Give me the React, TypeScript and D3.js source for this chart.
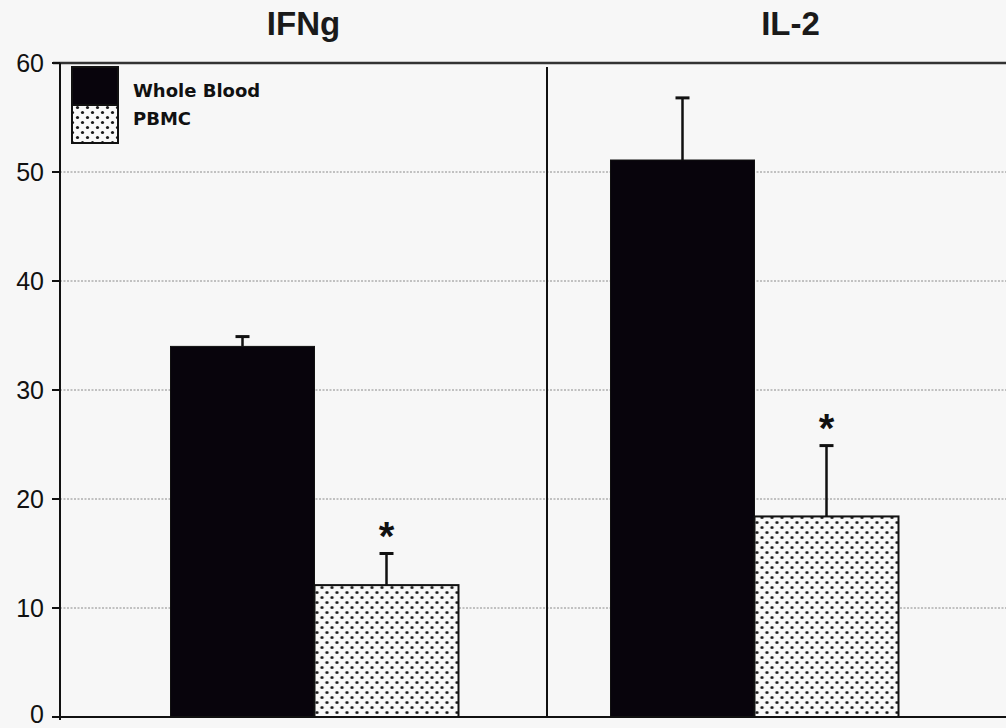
import React, { useEffect, useRef } from 'react';
import * as d3 from 'd3';

// cytokine panels and the two sample types
const panels = ['IFNg', 'IL-2'];
const series = ['Whole Blood', 'PBMC'];

// mean values and upper error (SD) per panel
const wholeBlood = [34.0, 51.1];
const wholeBloodErr = [0.9, 5.7];
const pbmc = [12.1, 18.4];
const pbmcErr = [2.9, 6.5];
const pbmcSignificant = [true, true];

const yTicks = [0, 10, 20, 30, 40, 50, 60];

export default function App() {
  const svgRef = useRef<SVGSVGElement>(null);

  const width = 1006;
  const height = 728;
  const bg = '#f7f7f7';
  const ink = '#111';

  useEffect(() => {
    if (!svgRef.current) return;
    const svg = d3.select(svgRef.current);
    svg.selectAll('*').remove();

    const yScale = d3.scaleLinear().domain([0, 60]).range([717, 63]);

    // panels (dividers, titles) span the full plot including the cropped right part
    const xPanel = d3.scaleBand<string>().domain(panels).range([60, 1034]).padding(0);
    // bar groups
    const xGroup = d3.scaleBand<string>().domain(panels).range([94.5, 974.5]).padding(0);
    const xSub = d3.scaleBand<string>().domain(series).range([76, 364]).padding(0);

    const defs = svg.append('defs');
    const pat = defs.append('pattern')
      .attr('id', 'dots')
      .attr('patternUnits', 'userSpaceOnUse')
      .attr('width', 10)
      .attr('height', 10);
    pat.append('rect').attr('width', 10).attr('height', 10).attr('fill', '#f9f9f9');
    pat.append('circle').attr('cx', 2.5).attr('cy', 2.5).attr('r', 1.6).attr('fill', '#1a1a1a');
    pat.append('circle').attr('cx', 7.5).attr('cy', 7.5).attr('r', 1.6).attr('fill', '#1a1a1a');

    svg.append('rect').attr('width', width).attr('height', height).attr('fill', bg);

    // dotted grid
    svg.append('g')
      .selectAll('line')
      .data(yTicks.filter(t => t > 0 && t < 60))
      .enter()
      .append('line')
      .attr('x1', 60)
      .attr('x2', width)
      .attr('y1', d => yScale(d))
      .attr('y2', d => yScale(d))
      .attr('stroke', '#8a8a8a')
      .attr('stroke-width', 1)
      .attr('stroke-dasharray', '2,1.5');

    // top frame line
    svg.append('line')
      .attr('x1', 53).attr('x2', width)
      .attr('y1', yScale(60)).attr('y2', yScale(60))
      .attr('stroke', '#333').attr('stroke-width', 2.5);

    // panel divider
    svg.append('line')
      .attr('x1', xPanel('IL-2')!).attr('x2', xPanel('IL-2')!)
      .attr('y1', yScale(60) + 4).attr('y2', yScale(0))
      .attr('stroke', ink).attr('stroke-width', 2);

    const rows = panels.map((p, i) => ({
      panel: p,
      bars: [
        { s: series[0], v: wholeBlood[i], e: wholeBloodErr[i], star: false },
        { s: series[1], v: pbmc[i], e: pbmcErr[i], star: pbmcSignificant[i] },
      ],
    }));

    const groups = svg.append('g')
      .selectAll('g')
      .data(rows)
      .enter()
      .append('g')
      .attr('transform', d => `translate(${xGroup(d.panel)},0)`);

    groups.selectAll('rect')
      .data(d => d.bars)
      .enter()
      .append('rect')
      .attr('x', d => xSub(d.s)!)
      .attr('y', d => yScale(d.v))
      .attr('width', xSub.bandwidth())
      .attr('height', d => yScale(0) - yScale(d.v))
      .attr('fill', d => d.s === 'PBMC' ? 'url(#dots)' : '#08040c')
      .attr('stroke', ink)
      .attr('stroke-width', d => d.s === 'PBMC' ? 2 : 1);

    // error bars
    const eb = groups.selectAll('g.err')
      .data(d => d.bars)
      .enter()
      .append('g')
      .attr('class', 'err')
      .attr('transform', d => `translate(${xSub(d.s)! + xSub.bandwidth() / 2},0)`);
    eb.append('line')
      .attr('y1', d => yScale(d.v))
      .attr('y2', d => yScale(d.v + d.e))
      .attr('stroke', ink).attr('stroke-width', 2.5);
    eb.append('line')
      .attr('x1', -7).attr('x2', 7)
      .attr('y1', d => yScale(d.v + d.e))
      .attr('y2', d => yScale(d.v + d.e))
      .attr('stroke', ink).attr('stroke-width', 3);
    eb.filter(d => d.star)
      .append('text')
      .attr('y', d => yScale(d.v + d.e) - 4)
      .attr('text-anchor', 'middle')
      .attr('font-family', 'Liberation Sans, Arial, sans-serif')
      .attr('font-weight', 'bold')
      .attr('font-size', 40)
      .attr('fill', ink)
      .text('*');

    // left axis
    const yAxis = svg.append('g');
    yAxis.append('line')
      .attr('x1', 60).attr('x2', 60)
      .attr('y1', yScale(60)).attr('y2', yScale(0) + 3)
      .attr('stroke', ink).attr('stroke-width', 2);
    yAxis.selectAll('line.tick')
      .data(yTicks)
      .enter()
      .append('line')
      .attr('class', 'tick')
      .attr('x1', 52).attr('x2', 60)
      .attr('y1', d => yScale(d)).attr('y2', d => yScale(d))
      .attr('stroke', ink).attr('stroke-width', 2);
    yAxis.selectAll('text')
      .data(yTicks)
      .enter()
      .append('text')
      .attr('x', 44)
      .attr('y', d => yScale(d))
      .attr('dy', d => (d === 0 ? '0.25em' : '0.36em'))
      .attr('text-anchor', 'end')
      .attr('font-family', 'Liberation Sans, Arial, sans-serif')
      .attr('font-size', 25)
      .attr('fill', ink)
      .text(d => d);

    // bottom baseline
    svg.append('line')
      .attr('x1', 52).attr('x2', width)
      .attr('y1', yScale(0)).attr('y2', yScale(0))
      .attr('stroke', ink).attr('stroke-width', 2);

    // panel titles
    svg.append('g')
      .selectAll('text')
      .data(panels)
      .enter()
      .append('text')
      .attr('x', d => xPanel(d)! + xPanel.bandwidth() / 2)
      .attr('y', 35)
      .attr('text-anchor', 'middle')
      .attr('font-family', 'Liberation Sans, Arial, sans-serif')
      .attr('font-weight', 'bold')
      .attr('font-size', 33)
      .attr('fill', '#1a1a1a')
      .text(d => d);

    // legend
    const legend = svg.append('g');
    const sw = { x: 72, y: 67, w: 46, h: 38 };
    series.forEach((s, i) => {
      legend.append('rect')
        .attr('x', sw.x)
        .attr('y', sw.y + i * sw.h)
        .attr('width', sw.w)
        .attr('height', sw.h)
        .attr('fill', s === 'PBMC' ? 'url(#dots)' : '#08040c')
        .attr('stroke', ink)
        .attr('stroke-width', 2);
      legend.append('text')
        .attr('x', 133)
        .attr('y', 97 + i * 28)
        .attr('font-family', 'DejaVu Sans, sans-serif')
        .attr('font-weight', 'bold')
        .attr('font-size', 18)
        .attr('fill', ink)
        .text(s);
    });
  }, []);

  return (
    <div style={{ position: 'absolute', left: 0, top: 0 }}>
      <svg ref={svgRef} width={width} height={height} style={{ display: 'block' }} />
    </div>
  );
}
